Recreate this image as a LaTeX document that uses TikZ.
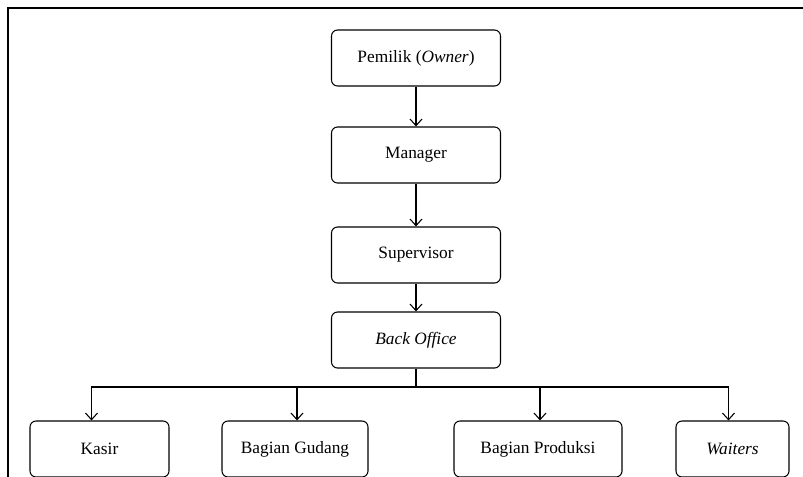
\documentclass[tikz,border=0pt]{standalone}
\usepackage{fontspec}
\setmainfont{Liberation Serif}
\usetikzlibrary{arrows.meta}

\begin{document}
\begin{tikzpicture}[x=0.75pt,y=-0.75pt,font=\fontsize{13}{15}\selectfont,
  box/.style={draw,rounded corners=4.5pt,line width=0.8pt,minimum height=42pt,inner sep=2pt},
  topbox/.style={box,minimum width=126.75pt},
  arr/.style={-{Straight Barb[length=5pt,width=9pt]},line width=0.8pt}]
  \useasboundingbox (0,0) rectangle (803,476);
  % frame
  \draw[line width=2pt] (8,490) -- (8,8) -- (820,8);
  % top chain
  \node[topbox] (owner) at (416,58) {Pemilik (\textit{Owner})};
  \node[topbox] (manager) at (416,155) {Manager};
  \node[topbox] (spv) at (416,255) {Supervisor};
  \node[topbox] (back) at (416,340) {\textit{Back Office}};
  \draw[arr] (owner) -- (manager);
  \draw[arr] (manager) -- (spv);
  \draw[arr] (spv) -- (back);
  % bottom row
  \node[box,minimum width=104.25pt] (kasir) at (99.5,449) {Kasir};
  \node[box,minimum width=109.5pt] (gudang) at (295,449) {Bagian Gudang};
  \node[box,minimum width=126pt] (produksi) at (538,449) {Bagian Produksi};
  \node[box,minimum width=84.75pt] (waiters) at (732.5,449) {\textit{Waiters}};
  % bus from back office
  \coordinate (bus) at (back.south |- 0,387);
  \draw[line width=0.8pt] (back) -- (bus);
  \draw[arr] (bus) -| ([xshift=-6pt]kasir.north);
  \draw[arr] (bus) -| ([xshift=1.5pt]gudang.north);
  \draw[arr] (bus) -| ([xshift=1.5pt]produksi.north);
  \draw[arr] (bus) -| ([xshift=-3pt]waiters.north);
\end{tikzpicture}
\end{document}
